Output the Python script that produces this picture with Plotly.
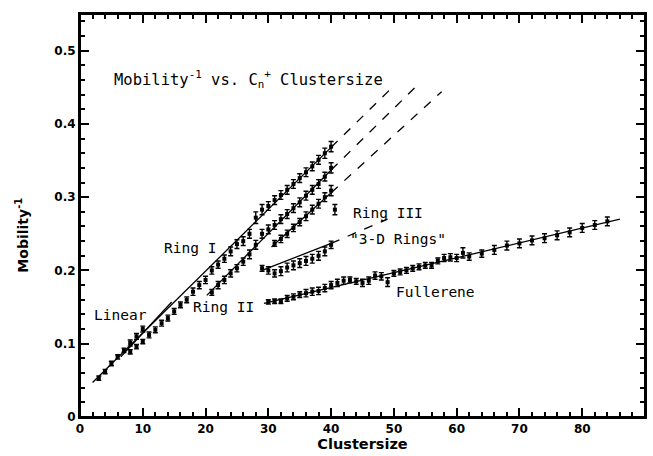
import plotly.graph_objects as go

# ---------------- data ----------------
linear_n = [3, 4, 5, 6, 7, 8, 9, 10]
linear_y = [0.053, 0.062, 0.073, 0.082, 0.091, 0.101, 0.110, 0.120]
linear_err = [0.003, 0.003, 0.003, 0.003, 0.003, 0.004, 0.004, 0.004]

ring1_n = [8, 9, 10, 11, 12, 13, 14, 15, 16, 17, 18, 19, 20, 21, 22, 23, 24, 25, 26, 27,
           28, 29, 30, 31, 32, 33, 34, 35, 36, 37, 38, 39, 40]
ring1_y = [0.089, 0.096, 0.103, 0.112, 0.119, 0.128, 0.135, 0.144, 0.153, 0.160, 0.171,
           0.180, 0.187, 0.200, 0.208, 0.216, 0.226, 0.236, 0.240, 0.250, 0.272, 0.283,
           0.288, 0.296, 0.303, 0.310, 0.318, 0.326, 0.334, 0.342, 0.351, 0.360, 0.369]
ring1_err = [0.003, 0.003, 0.003, 0.004, 0.004, 0.004, 0.004, 0.004, 0.004, 0.004, 0.005,
             0.005, 0.005, 0.005, 0.005, 0.005, 0.006, 0.006, 0.006, 0.006, 0.008, 0.007,
             0.006, 0.006, 0.006, 0.006, 0.006, 0.006, 0.006, 0.006, 0.006, 0.007, 0.007]

ring2_n = [21, 22, 23, 24, 25, 26, 27, 28, 29, 30, 31, 32, 33, 34, 35, 36, 37, 38, 39, 40]
ring2_y = [0.170, 0.180, 0.187, 0.196, 0.203, 0.212, 0.222, 0.235, 0.250, 0.256, 0.262,
           0.270, 0.277, 0.285, 0.293, 0.302, 0.310, 0.318, 0.328, 0.340]
ring2_err = [0.004, 0.005, 0.005, 0.005, 0.005, 0.005, 0.006, 0.006, 0.006, 0.006, 0.006,
             0.006, 0.006, 0.006, 0.006, 0.006, 0.006, 0.006, 0.006, 0.007]

ring3_n = [31, 32, 33, 34, 35, 36, 37, 38, 39, 40, 40.6]
ring3_y = [0.237, 0.243, 0.250, 0.258, 0.266, 0.274, 0.283, 0.291, 0.300, 0.309, 0.283]
ring3_err = [0.004, 0.005, 0.005, 0.005, 0.005, 0.006, 0.006, 0.006, 0.006, 0.007, 0.007]

rings3d_n = [29, 30, 31, 32, 33, 34, 35, 36, 37, 38, 39, 40]
rings3d_y = [0.203, 0.200, 0.196, 0.199, 0.204, 0.207, 0.210, 0.213, 0.216, 0.220, 0.226, 0.235]
rings3d_err = [0.004, 0.005, 0.005, 0.006, 0.006, 0.006, 0.006, 0.006, 0.006, 0.006, 0.006, 0.005]

full_n = [30, 31, 32, 33, 34, 35, 36, 37, 38, 39, 40, 41, 42, 43, 44, 45, 46, 47, 48, 49,
          50, 51, 52, 53, 54, 55, 56, 57, 58, 59, 60, 61, 62, 64, 66, 68, 70, 72, 74, 76,
          78, 80, 82, 84]
full_y = [0.157, 0.158, 0.158, 0.162, 0.164, 0.167, 0.169, 0.171, 0.172, 0.176, 0.180,
          0.183, 0.186, 0.187, 0.185, 0.183, 0.186, 0.193, 0.192, 0.184, 0.196, 0.198,
          0.200, 0.203, 0.205, 0.207, 0.207, 0.213, 0.217, 0.218, 0.217, 0.224, 0.219,
          0.223, 0.228, 0.234, 0.237, 0.241, 0.244, 0.248, 0.252, 0.258, 0.262, 0.267]
full_err = [0.003, 0.003, 0.003, 0.004, 0.004, 0.004, 0.005, 0.005, 0.005, 0.005, 0.005,
            0.005, 0.005, 0.004, 0.004, 0.005, 0.005, 0.005, 0.005, 0.006, 0.004, 0.004,
            0.004, 0.004, 0.004, 0.004, 0.004, 0.004, 0.005, 0.005, 0.005, 0.007, 0.005,
            0.005, 0.006, 0.006, 0.006, 0.006, 0.006, 0.006, 0.006, 0.006, 0.006, 0.006]

# fitted lines (solid part) and extrapolations (dashed part)
linear_fit_x = [6.5, 14.6]
linear_fit_y = [0.082, 0.157]
ring1_fit_x = [2.0, 40.0]
ring1_fit_y = [0.047, 0.368]
ring1_ext_x = [40.0, 50.0]
ring1_ext_y = [0.368, 0.452]
ring2_fit_x = [20.2, 40.0]
ring2_fit_y = [0.166, 0.337]
ring2_ext_x = [40.0, 54.0]
ring2_ext_y = [0.337, 0.455]
ring3_fit_x = [30.5, 40.0]
ring3_fit_y = [0.232, 0.306]
ring3_ext_x = [40.0, 57.6]
ring3_ext_y = [0.306, 0.444]
rings3d_fit_x = [29.0, 40.0]
rings3d_fit_y = [0.200, 0.237]
rings3d_ext_x = [40.0, 49.0]
rings3d_ext_y = [0.237, 0.270]
full_fit_x = [29.3, 86.0]
full_fit_y = [0.155, 0.270]

x_range = [0, 90]
y_range = [0, 0.55]
x_tick_vals = [0, 10, 20, 30, 40, 50, 60, 70, 80, 90]
x_tick_text = ["0", "10", "20", "30", "40", "50", "60", "70", "80", "90"]
y_tick_vals = [0, 0.1, 0.2, 0.3, 0.4, 0.5]
y_tick_text = ["0", "0.1", "0.2", "0.3", "0.4", "0.5"]
x_minor, y_minor = 2, 0.02

labels = [
    ("Linear", 6.5, 0.139, "center"),
    ("Ring I", 17.5, 0.230, "center"),
    ("Ring II", 22.8, 0.150, "center"),
    ("Ring III", 43.2, 0.278, "left"),
    ("\"3-D Rings\"", 50.6, 0.243, "center"),
    ("Fullerene", 56.6, 0.171, "center"),
]

# ---------------- figure ----------------
fig = go.Figure()
INK = "black"
MONO = "DejaVu Sans Mono"

def add_points(n, y, err):
    fig.add_trace(go.Scatter(
        x=n, y=y, mode="markers",
        marker=dict(symbol="square", size=4, color=INK),
        error_y=dict(type="data", array=err, visible=True, color=INK,
                     thickness=1.4, width=2.5),
        showlegend=False, hoverinfo="skip"))

def add_line(x, y, dash="solid"):
    fig.add_trace(go.Scatter(
        x=x, y=y, mode="lines",
        line=dict(color=INK, width=1.3, dash=dash),
        showlegend=False, hoverinfo="skip"))

add_line(linear_fit_x, linear_fit_y)
add_line(ring1_fit_x, ring1_fit_y)
add_line(ring1_ext_x, ring1_ext_y, "dash")
add_line(ring2_fit_x, ring2_fit_y)
add_line(ring2_ext_x, ring2_ext_y, "dash")
add_line(ring3_fit_x, ring3_fit_y)
add_line(ring3_ext_x, ring3_ext_y, "dash")
add_line(rings3d_fit_x, rings3d_fit_y)
add_line(rings3d_ext_x, rings3d_ext_y, "dash")
add_line(full_fit_x, full_fit_y)

add_points(linear_n, linear_y, linear_err)
add_points(ring1_n, ring1_y, ring1_err)
add_points(ring2_n, ring2_y, ring2_err)
add_points(ring3_n, ring3_y, ring3_err)
add_points(rings3d_n, rings3d_y, rings3d_err)
add_points(full_n, full_y, full_err)

text_font = dict(family=MONO, size=14.5, color=INK)
for txt, lx, ly, anchor in labels:
    fig.add_annotation(x=lx, y=ly, xref="x", yref="y", text=txt, showarrow=False,
                       font=text_font, xanchor=anchor, yanchor="middle")

fig.add_annotation(x=5.1, y=0.461, xref="x", yref="y",
                   text="Mobility<sup>-1</sup> vs. C<sub>n</sub><sup>+</sup> Clustersize",
                   showarrow=False, font=dict(family=MONO, size=15.5, color=INK),
                   xanchor="left", yanchor="middle")

fig.add_annotation(x=-0.103, y=0.452, xref="paper", yref="paper",
                   text="<b>Mobility<sup>-1</sup></b>", textangle=-90, showarrow=False,
                   font=dict(family="DejaVu Sans", size=14, color=INK),
                   xanchor="center", yanchor="middle")

# frame box (drawn above the plot area)
fig.add_shape(type="rect", xref="paper", yref="paper", x0=0, y0=0, x1=1, y1=1,
              line=dict(color=INK, width=2), layer="above")

axis_common = dict(
    showline=True, linecolor=INK, linewidth=2, mirror="ticks",
    ticks="inside", tickcolor=INK, tickwidth=2, ticklen=9,
    showgrid=False, zeroline=False, automargin=False,
    tickfont=dict(family="DejaVu Sans", size=12, color=INK),
)

fig.update_xaxes(
    range=x_range, tickmode="array", tickvals=x_tick_vals,
    ticktext=["<b>%s</b>" % t for t in x_tick_text], **axis_common,
    minor=dict(ticks="inside", tickmode="linear", tick0=0, dtick=x_minor, ticklen=5,
               tickcolor=INK, tickwidth=1.5, showgrid=False),
    title=dict(text="<b>Clustersize</b>", font=dict(family="DejaVu Sans", size=14.5, color=INK),
               standoff=0),
)
fig.update_yaxes(
    range=y_range, tickmode="array", tickvals=y_tick_vals,
    ticktext=["<b>%s</b>" % t for t in y_tick_text], **axis_common,
    minor=dict(ticks="inside", tickmode="linear", tick0=0, dtick=y_minor, ticklen=5,
               tickcolor=INK, tickwidth=1.5, showgrid=False),
)

fig.update_layout(
    width=653, height=456,
    margin=dict(l=80, r=8, t=14, b=39, autoexpand=False),
    paper_bgcolor="white", plot_bgcolor="white",
)

fig.write_html(
    "out.html",
    config={"displayModeBar": False},
    post_script="document.body.style.margin='0';document.body.style.overflow='hidden';",
)
